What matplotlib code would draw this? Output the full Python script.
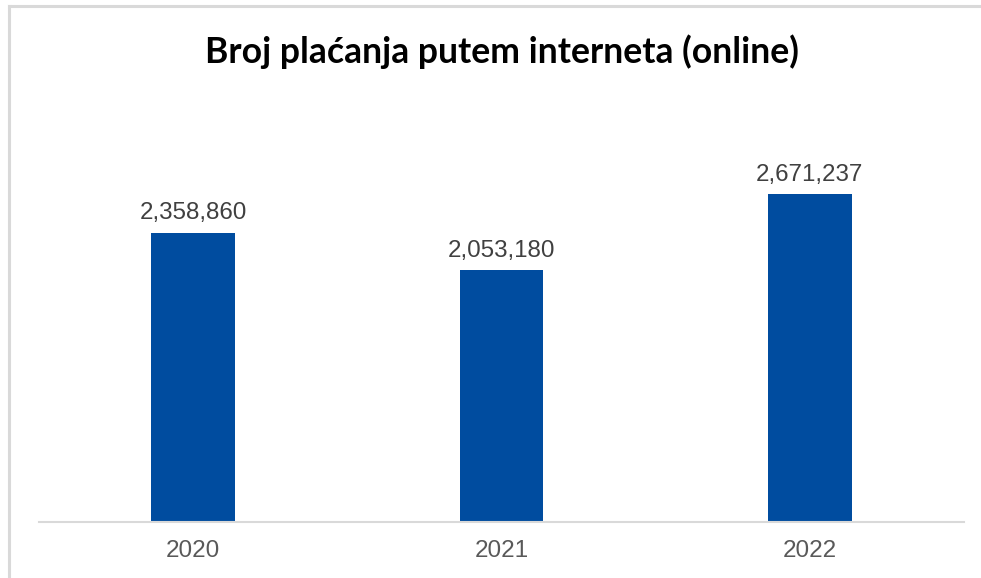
import matplotlib.pyplot as plt
from matplotlib.lines import Line2D

years = ["2020", "2021", "2022"]
payments = [2358860, 2053180, 2671237]

W, H = 981, 578
fig = plt.figure(figsize=(W / 100, H / 100), dpi=100)

# outer frame (only top and left edges fall inside the picture)
fig.add_artist(Line2D([9 / W, 9 / W], [0, 1 - 6 / H], color="#d9d9d9", lw=2.2))
fig.add_artist(Line2D([9 / W, 1], [1 - 6 / H, 1 - 6 / H], color="#d9d9d9", lw=2.2))

left, right, bottom, top = 39, 964, 522, 154
ax = fig.add_axes([left / W, 1 - bottom / H, (right - left) / W, (bottom - top) / H])

x = range(len(years))
bars = ax.bar(x, payments, width=0.272, color="#004C9F")
ax.set_xlim(-0.5, len(years) - 0.5)
ax.set_ylim(0, 3000000)

for b, v in zip(bars, payments):
    ax.text(b.get_x() + b.get_width() / 2, v + 70000, f"{v:,}",
            ha="center", va="bottom", fontsize=17.4, color="#404040",
            family="Liberation Sans")

ax.set_xticks(list(x))
ax.set_xticklabels(years, fontsize=17.5, color="#595959", family="Liberation Sans")
ax.tick_params(axis="x", length=0, pad=13)
ax.set_yticks([])
for s in ["top", "right", "left"]:
    ax.spines[s].set_visible(False)
ax.spines["bottom"].set_color("#d9d9d9")
ax.spines["bottom"].set_linewidth(1.5)

fig.text(502.5 / W, 1 - 52 / H, "Broj plaćanja putem interneta (online)",
         ha="center", va="center", fontsize=25.6, fontweight="bold",
         family=["Lato", "DejaVu Sans"], color="black")

fig.savefig("out.png", dpi=100)
